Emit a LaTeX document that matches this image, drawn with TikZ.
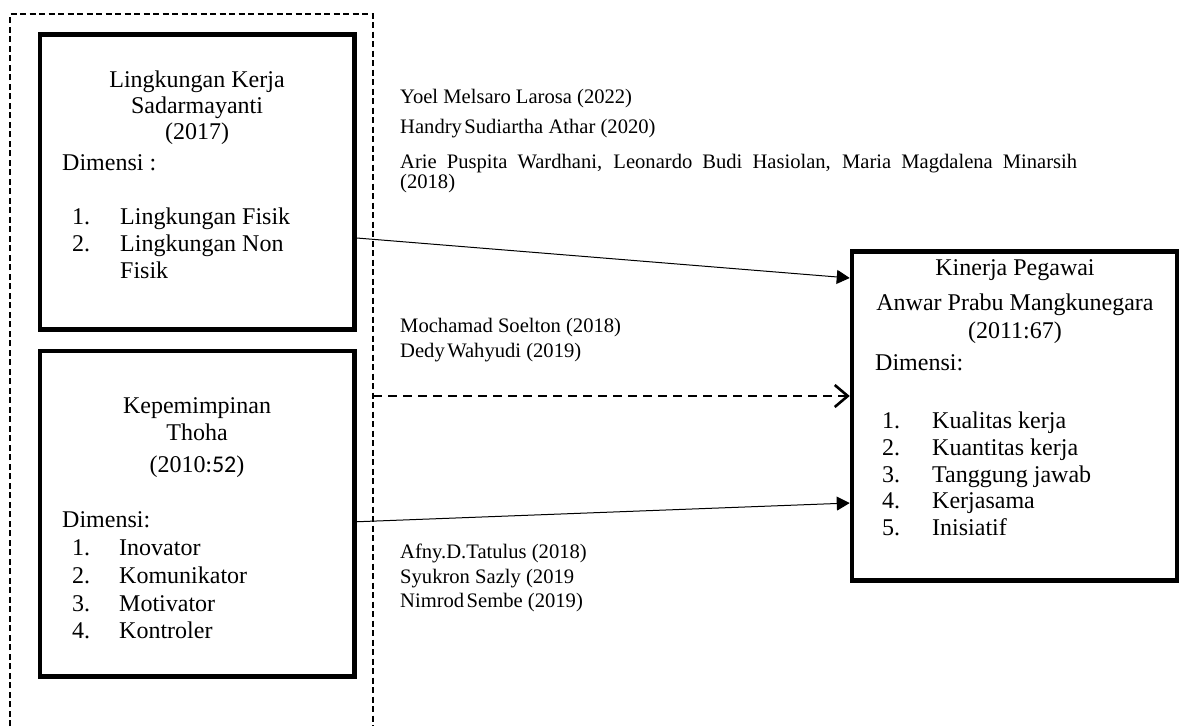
\documentclass[tikz,border=0pt]{standalone}
\usepackage{fontspec}
\setmainfont{Liberation Serif}
\newfontfamily\calib{Carlito}
\usetikzlibrary{arrows.meta,calc}
\newcommand{\nsp}{\hspace{0.12em}}
\begin{document}
\begin{tikzpicture}[x=1pt,y=-1pt,
  box/.style={draw, line width=4.5pt, inner sep=0pt},
  big/.style={font=\fontsize{24}{27}\selectfont, inner sep=0pt},
  small/.style={font=\fontsize{20.6}{23}\selectfont, inner sep=0pt, anchor=base west},
  lt/.style={big, anchor=base west},
  ct/.style={big, anchor=base},
  outerdash/.style={line width=1.8pt, dash pattern=on 6pt off 3.5pt},
  arr/.style={line width=1pt, -{Triangle[length=13pt,width=14pt]}},
  darr/.style={line width=2.6pt, dash pattern=on 9pt off 6pt, -{Straight Barb[length=13pt,width=22pt,line width=2.6pt]}}
]
\useasboundingbox (0,0) rectangle (1180,726);

% outer dashed frame (open at bottom)
\coordinate (fa) at (10,726);
\coordinate (fb) at (10,14);
\coordinate (fc) at (373,14);
\coordinate (fd) at (373,726);
\draw[outerdash] (fa) -- (fb) -- (fc) -- (fd);

% boxes
\node[box, minimum width=314.5pt, minimum height=295pt] (b1) at (197.25,182) {};
\node[box, minimum width=314.5pt, minimum height=325.5pt] (b2) at (197.25,513.75) {};
\node[box, minimum width=325pt, minimum height=329pt] (b3) at (1014.5,416) {};

% box 1 text
\node[ct] (t11) at (197,87) {Lingkungan Kerja};
\node[ct] (t12) at (197,113) {Sadarmayanti};
\node[ct] (t13) at (197,139) {(2017)};
\node[lt] (t14) at (62,170) {Dimensi :};
\node[lt] (n11) at (72,224) {1.};
\node[lt] (i11) at (120,224) {Lingkungan Fisik};
\node[lt] (n12) at (72,251) {2.};
\node[lt] (i12) at (120,251) {Lingkungan Non};
\node[lt] (i13) at (120,278) {Fisik};

% box 2 text
\node[ct] (t21) at (197,413) {Kepemimpinan};
\node[ct] (t22) at (197,440) {Thoha};
\node[ct] (t23) at (197,472) {(2010{\calib:52})};
\node[lt] (t24) at (62,527) {Dimensi:};
\node[lt] (n21) at (72,555) {1.};
\node[lt] (i21) at (119,555) {Inovator};
\node[lt] (n22) at (72,583) {2.};
\node[lt] (i22) at (119,583) {Komunikator};
\node[lt] (n23) at (72,611) {3.};
\node[lt] (i23) at (119,611) {Motivator};
\node[lt] (n24) at (72,638) {4.};
\node[lt] (i24) at (119,638) {Kontroler};

% box 3 text
\node[ct] (t31) at (1015,275) {Kinerja Pegawai};
\node[ct] (t32) at (1015,310) {Anwar Prabu Mangkunegara};
\node[ct] (t33) at (1015,338) {(2011:67)};
\node[lt] (t34) at (875,370) {Dimensi:};
\node[lt] (n31) at (882,428) {1.};
\node[lt] (i31) at (932,428) {Kualitas kerja};
\node[lt] (n32) at (882,455) {2.};
\node[lt] (i32) at (932,455) {Kuantitas kerja};
\node[lt] (n33) at (882,482) {3.};
\node[lt] (i33) at (932,482) {Tanggung jawab};
\node[lt] (n34) at (882,508) {4.};
\node[lt] (i34) at (932,508) {Kerjasama};
\node[lt] (n35) at (882,535) {5.};
\node[lt] (i35) at (932,535) {Inisiatif};

% references
\node[small] (r1) at (400,103) {Yoel Melsaro Larosa (2022)};
\node[small] (r2) at (400,133) {Handry\nsp Sudiartha Athar (2020)};
\node[small] (r3) at (400,168) {\makebox[677pt][s]{Arie Puspita Wardhani, Leonardo Budi Hasiolan, Maria Magdalena Minarsih}};
\node[small] (r4) at (400,188) {(2018)};
\node[small] (r5) at (400,332) {Mochamad Soelton (2018)};
\node[small] (r6) at (400,357) {Dedy\nsp Wahyudi (2019)};
\node[small] (r7) at (400,558) {Afny.D.Tatulus (2018)};
\node[small] (r8) at (400,583) {Syukron Sazly (2019};
\node[small] (r9) at (400,607) {Nimrod\nsp Sembe (2019)};

% connectors
\draw[arr] ($(b1.east)+(0,56)$) -- ($(b3.west)+(0,-138)$);
\draw[arr] ($(b2.east)+(0,8)$) -- ($(b3.west)+(0,87)$);
\draw[darr] (fc |- {$(b3.west)+(0,-20)$}) -- ($(b3.west)+(0,-20)$);
\end{tikzpicture}
\end{document}
